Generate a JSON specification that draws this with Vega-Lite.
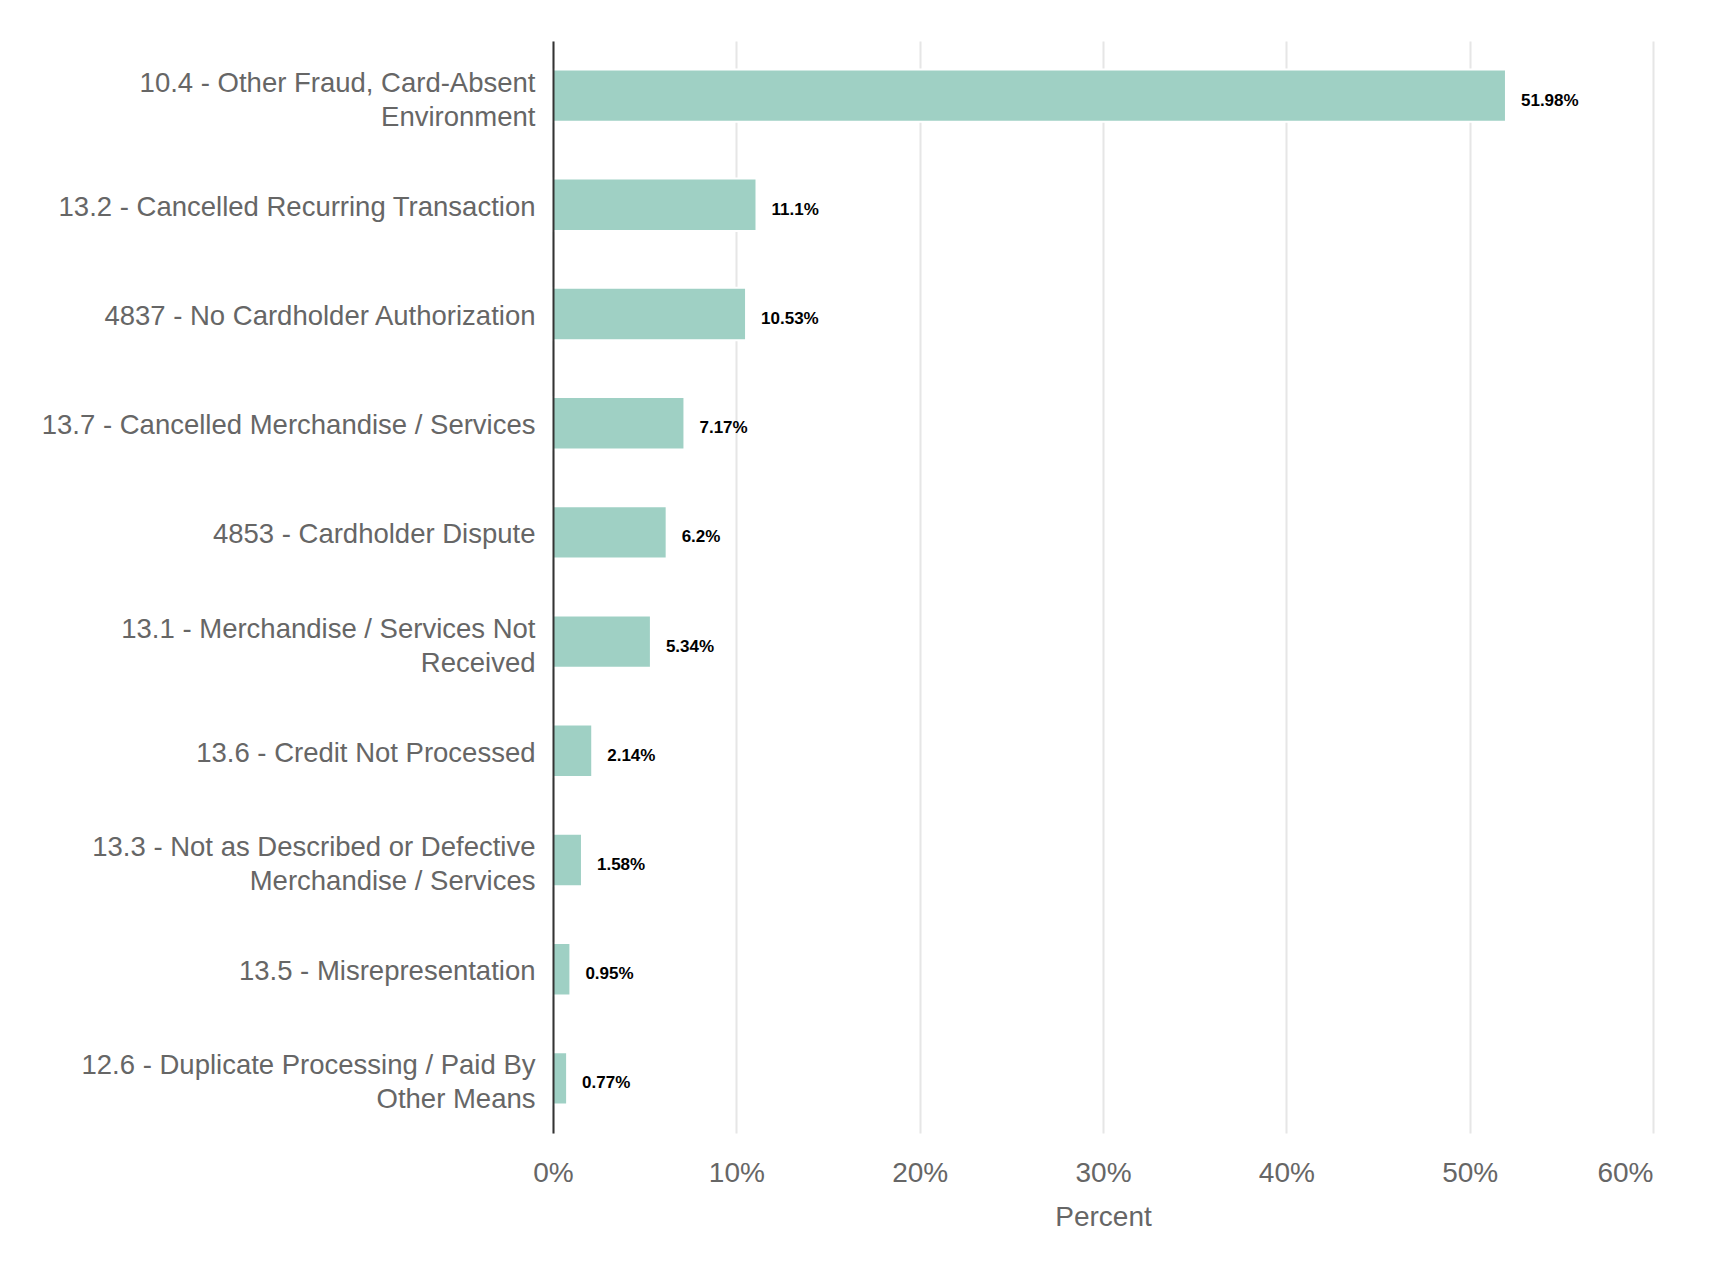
{
  "$schema": "https://vega.github.io/schema/vega-lite/v6.json",
  "width": 1100,
  "height": 1092,
  "autosize": {"type": "none"},
  "padding": {"left": 553, "top": 41, "right": 69, "bottom": 133},
  "background": "white",
  "config": {
    "view": {"stroke": null},
    "font": "Liberation Sans"
  },
  "data": {
    "values": [
      {"reason": "10.4 - Other Fraud, Card-Absent|Environment", "pct": 51.98, "label": "51.98%"},
      {"reason": "13.2 - Cancelled Recurring Transaction", "pct": 11.1, "label": "11.1%"},
      {"reason": "4837 - No Cardholder Authorization", "pct": 10.53, "label": "10.53%"},
      {"reason": "13.7 - Cancelled Merchandise / Services", "pct": 7.17, "label": "7.17%"},
      {"reason": "4853 - Cardholder Dispute", "pct": 6.2, "label": "6.2%"},
      {"reason": "13.1 - Merchandise / Services Not|Received", "pct": 5.34, "label": "5.34%"},
      {"reason": "13.6 - Credit Not Processed", "pct": 2.14, "label": "2.14%"},
      {"reason": "13.3 - Not as Described or Defective|Merchandise / Services", "pct": 1.58, "label": "1.58%"},
      {"reason": "13.5 - Misrepresentation", "pct": 0.95, "label": "0.95%"},
      {"reason": "12.6 - Duplicate Processing / Paid By|Other Means", "pct": 0.77, "label": "0.77%"}
    ]
  },
  "encoding": {
    "y": {
      "field": "reason",
      "type": "nominal",
      "sort": "-x",
      "title": null,
      "scale": {"paddingInner": 0.52, "paddingOuter": 0.26},
      "axis": {
        "labelExpr": "split(datum.label, '|')",
        "labelFontSize": 27.5,
        "labelColor": "#666666",
        "labelLineHeight": 34,
        "labelPadding": 18,
        "labelLimit": 600,
        "labelOffset": {"condition": {"test": "indexof(datum.value, '|') >= 0", "value": -12}, "value": 3},
        "ticks": false,
        "domainColor": "#333333",
        "domainWidth": 2,
        "grid": false,
        "zindex": 2
      }
    },
    "x": {
      "field": "pct",
      "type": "quantitative",
      "title": "Percent",
      "scale": {"domain": [0, 60], "nice": false},
      "axis": {
        "values": [0, 10, 20, 30, 40, 50, 60],
        "labelExpr": "datum.value + '%'",
        "labelFlush": false,
        "labelAlign": {"condition": {"test": "datum.value == 60", "value": "right"}, "value": "center"},
        "labelFontSize": 28,
        "labelColor": "#666666",
        "labelPadding": 26,
        "titleFontSize": 28,
        "titleFontWeight": "normal",
        "titleColor": "#666666",
        "titlePadding": 16,
        "domain": false,
        "ticks": false,
        "grid": true,
        "gridColor": "#e6e6e6",
        "gridWidth": 2,
        "zindex": 0
      }
    }
  },
  "layer": [
    {
      "mark": {"type": "bar", "color": "#9fd0c4", "stroke": "white", "strokeWidth": 2}
    },
    {
      "mark": {"type": "text", "align": "left", "baseline": "middle", "dx": 15, "dy": 5, "fontSize": 17, "fontWeight": "bold", "color": "#000000"},
      "encoding": {"text": {"field": "label"}}
    }
  ]
}
